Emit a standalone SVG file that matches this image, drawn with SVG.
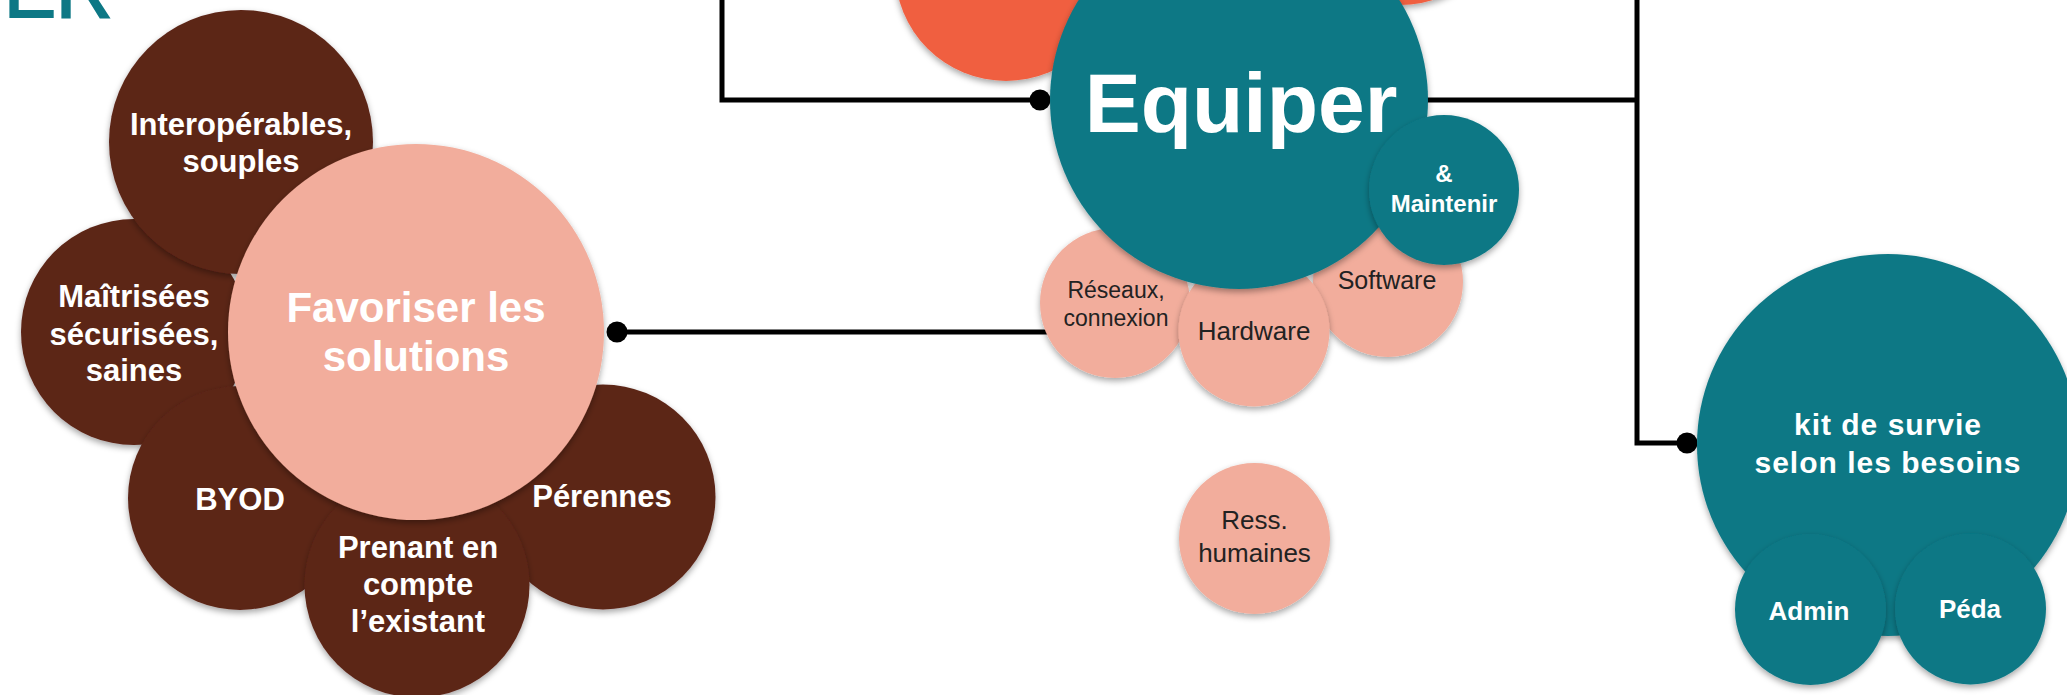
<svg xmlns="http://www.w3.org/2000/svg" width="2067" height="695" viewBox="0 0 2067 695">
  <defs>
    <filter id="sh" x="-20%" y="-20%" width="140%" height="150%">
      <feDropShadow dx="0" dy="3" stdDeviation="3" flood-color="#000" flood-opacity="0.35"/>
    </filter>
    <style>
      .brown { fill: #5C2519; filter: url(#sh); }
      .pink { fill: #F2AD9C; filter: url(#sh); }
      .teal { fill: #0D7885; filter: url(#sh); }
      .orange { fill: #F05F41; filter: url(#sh); }
      .conn { fill: none; stroke: #000; stroke-width: 5; }
      .dot { fill: #000; }
      text { font-family: "Liberation Sans", Arial, sans-serif; text-anchor: middle; }
      .wb { fill: #fff; font-weight: bold; font-size: 31px; }
      .dk { fill: #222; font-size: 25px; }
    </style>
  </defs>
  <rect width="2067" height="695" fill="#fff"/>

  <text x="4" y="17" style="text-anchor:start" font-size="78" fill="#0D7885" stroke="#0D7885" stroke-width="2">ER</text>

  <g id="connectors">
    <polyline class="conn" points="722,0 722,100 1040,100"/>
    <circle class="dot" cx="1040" cy="100" r="10.5"/>
    <polyline class="conn" points="1420,100 1637,100"/>
    <polyline class="conn" points="1637,0 1637,443 1687,443"/>
    <circle class="dot" cx="1687" cy="443" r="10.5"/>
    <line class="conn" x1="617" y1="332" x2="1060" y2="332"/>
    <circle class="dot" cx="617" cy="332" r="10.5"/>
  </g>

  <g id="maitrisees">
    <circle class="brown" cx="134" cy="332" r="113"/>
    <text class="wb"><tspan x="134" y="307">Maîtrisées</tspan><tspan x="134" y="345">sécurisées,</tspan><tspan x="134" y="381">saines</tspan></text>
  </g>
  <g id="interoperables">
    <circle class="brown" cx="241" cy="142" r="132"/>
    <text class="wb"><tspan x="241" y="135">Interopérables,</tspan><tspan x="241" y="172">souples</tspan></text>
  </g>
  <g id="byod">
    <circle class="brown" cx="240" cy="498" r="112"/>
    <text class="wb" x="240" y="510">BYOD</text>
  </g>
  <g id="perennes">
    <circle class="brown" cx="603" cy="497" r="112.5"/>
    <text class="wb" x="602" y="507">Pérennes</text>
  </g>
  <g id="prenant">
    <circle class="brown" cx="417" cy="585" r="112.5"/>
    <text class="wb"><tspan x="418" y="558">Prenant en</tspan><tspan x="418" y="595">compte</tspan><tspan x="418" y="632">l’existant</tspan></text>
  </g>
  <g id="favoriser">
    <circle class="pink" cx="416" cy="332" r="188"/>
    <text class="wb" style="font-size:42px"><tspan x="416" y="322">Favoriser les</tspan><tspan x="416" y="371">solutions</tspan></text>
  </g>

  <g id="orange-1">
    <circle class="orange" cx="1006" cy="-30" r="111"/>
  </g>
  <g id="orange-2">
    <circle class="orange" cx="1400" cy="-105" r="110"/>
  </g>
  <g id="reseaux">
    <circle class="pink" cx="1115" cy="303" r="75"/>
    <text class="dk" style="font-size:23px"><tspan x="1116" y="298">Réseaux,</tspan><tspan x="1116" y="326">connexion</tspan></text>
  </g>
  <g id="software">
    <circle class="pink" cx="1388" cy="282" r="75"/>
    <text class="dk" x="1387" y="289">Software</text>
  </g>
  <g id="hardware">
    <circle class="pink" cx="1254" cy="331" r="75.5"/>
    <text class="dk" x="1254" y="340" style="font-size:26px">Hardware</text>
  </g>
  <g id="equiper">
    <circle class="teal" cx="1239" cy="100" r="189"/>
    <text class="wb" x="1241" y="132" style="font-size:84px">Equiper</text>
  </g>
  <g id="maintenir">
    <circle class="teal" cx="1444" cy="190" r="75"/>
    <text class="wb" style="font-size:24px"><tspan x="1444" y="182">&amp;</tspan><tspan x="1444" y="212">Maintenir</tspan></text>
  </g>
  <g id="ress-humaines">
    <circle class="pink" cx="1254.5" cy="538.5" r="75.5"/>
    <text class="dk" style="font-size:26px"><tspan x="1254.5" y="529">Ress.</tspan><tspan x="1254.5" y="562">humaines</tspan></text>
  </g>

  <g id="kit">
    <circle class="teal" cx="1888" cy="445" r="191"/>
    <text class="wb" style="font-size:30px;letter-spacing:1px"><tspan x="1888" y="435">kit de survie</tspan><tspan x="1888" y="473">selon les besoins</tspan></text>
  </g>
  <g id="admin">
    <circle class="teal" cx="1810.5" cy="609.5" r="75.5"/>
    <text class="wb" x="1809" y="620" style="font-size:26px">Admin</text>
  </g>
  <g id="peda">
    <circle class="teal" cx="1970.5" cy="609" r="75.5"/>
    <text class="wb" x="1970" y="618" style="font-size:26px">Péda</text>
  </g>
</svg>
